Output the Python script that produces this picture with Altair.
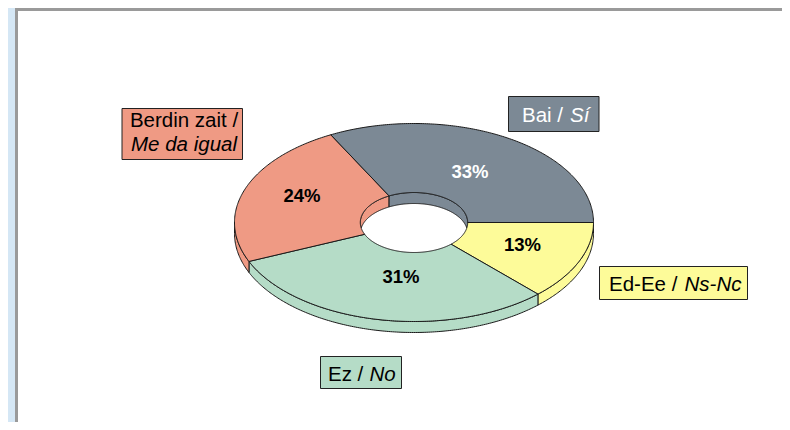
import numpy as np
import pandas as pd
import altair as alt

# --- chart values -----------------------------------------------------------
categories = ["Ed-Ee", "Ez", "Berdin zait", "Bai"]
shares = [13, 31, 24, 33]
colors = ["#FDFB99", "#B5DCC7", "#EF9A84", "#7C8995"]
percent_text = ["13%", "31%", "24%", "33%"]
percent_color = ["#000000", "#000000", "#000000", "#FFFFFF"]

# --- layout -----------------------------------------------------------------
W, H = 774, 414
X0, Y0 = 8, 8
CX, CY, RX, RY = 414.0, 222.5, 179.5, 99.0
HRX, HRY = 53.7, 30.0
DEPTH = 11.0
percent_xy = [(522.5, 245), (401, 277), (302, 196), (470, 172)]
boxes = [
    (599.5, 266.5, 747.5, 299.5, "#FDFB99"),
    (320.5, 356.5, 401.5, 388.5, "#B5DCC7"),
    (122, 108.5, 242.5, 159.5, "#EF9A84"),
    (508.5, 96.5, 599, 131.5, "#7C8995"),
]
texts = [
    ("Ed-Ee /", 609, 291, "normal", "left", "#000000"),
    ("Ns-Nc", 684.5, 291, "italic", "left", "#000000"),
    ("Ez /", 328, 381, "normal", "left", "#000000"),
    ("No", 369.5, 381, "italic", "left", "#000000"),
    ("Berdin zait /", 184, 127, "normal", "center", "#000000"),
    ("Me da igual", 184, 151, "italic", "center", "#000000"),
    ("Bai /", 522, 121.5, "normal", "left", "#FFFFFF"),
    ("Sí", 570, 121.5, "italic", "left", "#FFFFFF"),
]

x_scale = alt.Scale(domain=[X0, X0 + W], range=[0, W], nice=False, zero=False)
y_scale = alt.Scale(domain=[Y0, Y0 + H], range=[0, H], nice=False, zero=False)
X = lambda f="x": alt.X(f"{f}:Q", scale=x_scale, axis=None)
Y = lambda f="y": alt.Y(f"{f}:Q", scale=y_scale, axis=None)

total = sum(shares)
cuts = np.concatenate([[0], np.cumsum(shares) / total * 360.0])


def arc(a0, a1, rx, ry, dy=0.0):
    n = max(int(abs(a1 - a0) * 1.5), 2)
    t = np.radians(np.linspace(a0, a1, n))
    return list(zip(CX + rx * np.cos(t), CY + dy + ry * np.sin(t)))


def polygon(points, fill, sw=1.0):
    df = pd.DataFrame(points, columns=["x", "y"])
    df["o"] = range(len(df))
    return (
        alt.Chart(df)
        .mark_line(
            interpolate="linear-closed", fill=fill, stroke="#1a1a1a",
            strokeWidth=sw, clip=False,
        )
        .encode(x=X(), y=Y(), order="o:Q")
    )


layers = []

# page background panel
panel = pd.DataFrame({"x": [16.5], "x2": [900.0], "y": [9.5], "y2": [900.0]})
layers.append(
    alt.Chart(panel)
    .mark_rect(fill="#FFFFFF", stroke="#9A9A9A", strokeWidth=3, clip=True)
    .encode(x=X(), x2="x2:Q", y=Y(), y2="y2:Q")
)

# outer rim (front half only)
for i in range(3):
    a0, a1 = cuts[i], min(cuts[i + 1], 180.0)
    if a0 < 180:
        pts = arc(a0, a1, RX, RY) + arc(a1, a0, RX, RY, DEPTH)
        layers.append(polygon(pts, colors[i]))

# inner wall seen through the hole (far half only)
cross = np.degrees(np.arcsin((DEPTH / 2) / HRY))
a_split = cuts[3]
wall_salmon = arc(180 - cross, a_split, HRX, HRY) + arc(a_split, 180 + cross, HRX, HRY, DEPTH)
wall_grey = arc(a_split, 360 + cross, HRX, HRY) + arc(360 - cross, a_split, HRX, HRY, DEPTH)
layers.append(polygon(wall_salmon, colors[2]))
layers.append(polygon(wall_grey, colors[3]))

# top faces
for i in range(4):
    pts = arc(cuts[i], cuts[i + 1], RX, RY) + arc(cuts[i + 1], cuts[i], HRX, HRY)
    layers.append(polygon(pts, colors[i]))

# percentage labels
pct = pd.DataFrame({
    "x": [p[0] for p in percent_xy],
    "y": [p[1] for p in percent_xy],
    "t": percent_text,
    "c": percent_color,
    "cat": categories,
})
layers.append(
    alt.Chart(pct)
    .mark_text(font="Liberation Sans", fontSize=18.5, fontWeight="bold", baseline="middle", align="center")
    .encode(x=X(), y=Y(), text="t:N", color=alt.Color("c:N", scale=None))
)

# callout boxes
bx = pd.DataFrame(boxes, columns=["x", "y", "x2", "y2", "c"])
layers.append(
    alt.Chart(bx)
    .mark_rect(stroke="#222222", strokeWidth=1)
    .encode(x=X(), x2="x2:Q", y=Y(), y2="y2:Q", fill=alt.Fill("c:N", scale=None))
)

# callout texts
for txt, x, y, style, align, col in texts:
    layers.append(
        alt.Chart(pd.DataFrame({"x": [x], "y": [y], "t": [txt]}))
        .mark_text(font="Liberation Sans", fontSize=20.5, fontStyle=style, align=align,
                   baseline="alphabetic", color=col)
        .encode(x=X(), y=Y(), text="t:N")
    )

chart = (
    alt.layer(*layers)
    .properties(width=W, height=H, padding=0, background="#D5E7F5",
                autosize=alt.AutoSizeParams(type="none"))
    .configure_view(stroke=None)
)

chart.save("out.html", embed_options={"renderer": "svg", "actions": False})
